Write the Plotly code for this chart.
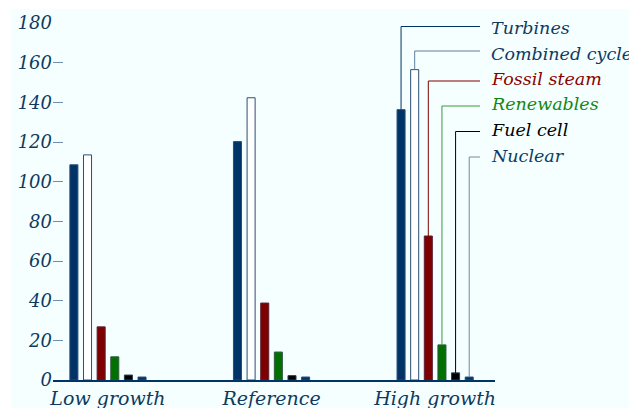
import plotly.graph_objects as go

categories = ["Low growth", "Reference", "High growth"]
series_names = ["Turbines", "Combined cycle", "Fossil steam", "Renewables", "Fuel cell", "Nuclear"]
turbines = [108.5, 120.2, 136.3]
combined_cycle = [113.5, 142.3, 156.5]
fossil_steam = [26.8, 38.8, 72.6]
renewables = [11.7, 14.1, 17.7]
fuel_cell = [2.5, 2.2, 3.6]
nuclear = [1.5, 1.5, 1.5]
y_ticks = [0, 20, 40, 60, 80, 100, 120, 140, 160, 180]

values = [turbines, combined_cycle, fossil_steam, renewables, fuel_cell, nuclear]
fill_colors = ["#003366", "#ffffff", "#7f0000", "#007000", "#000000", "#003366"]
edge_colors = ["#2a4f74", "#2a4f74", "#5a2030", "#2f5a40", "#2a3f54", "#2a4f74"]
lead_colors = ["#003366", "#5d7e9e", "#7f0000", "#3a9a3a", "#000000", "#6d8aa5"]
text_colors = ["#0e3a60", "#0e3a60", "#8b0000", "#118811", "#000000", "#0e3a60"]

BG = "#f5ffff"
FONT = "DejaVu Serif"
FS = 19
LFS = 17.5
bargap = 0.50
bargroupgap = 0.41
n = len(series_names)
XR = [-0.336, 2.366]

fig = go.Figure()
for i, name in enumerate(series_names):
    fig.add_trace(go.Bar(
        x=list(range(len(categories))), y=values[i], name=name,
        marker=dict(color=fill_colors[i], line=dict(color=edge_colors[i], width=1)),
        showlegend=False,
    ))

# page offset (body margin) and figure size
OFF = 8
W, H = 637 - OFF, 408 - OFF
# plot area in screen pixels
SL, SR, ST, SB = 53, 495, 23, 380
L, T = SL - OFF, ST - OFF
R, B = W - (SR - OFF), H - (SB - OFF)
ph = H - T - B
pw = W - L - R

def py(ypx):
    return (SB - ypx) / ph

def px(xpx):
    return (xpx - SL) / pw

shapes = [dict(type="rect", xref="paper", yref="paper", x0=px(11), x1=px(700),
               y0=py(9), y1=py(500), fillcolor=BG, line=dict(width=0), layer="below")]

label_y = [28, 53.5, 79, 104.5, 130, 155.5]
line_y = [26.5, 51, 81, 106, 131.5, 157]
slot = (1 - bargap) / n
last = len(categories) - 1
annotations = []
for i, name in enumerate(series_names):
    xc = last - (1 - bargap) / 2 + slot * (i + 0.5)
    top = values[i][last]
    xc_px = SL + (xc - XR[0]) / (XR[1] - XR[0]) * pw
    shapes.append(dict(type="line", xref="x", yref="paper", x0=xc, x1=xc,
                       y0=top / 180, y1=py(line_y[i]),
                       line=dict(color=lead_colors[i], width=1)))
    shapes.append(dict(type="line", xref="paper", yref="paper", x0=px(xc_px), x1=px(480),
                       y0=py(line_y[i]), y1=py(line_y[i]),
                       line=dict(color=lead_colors[i], width=1)))
    annotations.append(dict(xref="paper", yref="paper", x=px(489), y=py(label_y[i]),
                            text=name, showarrow=False, xanchor="left", yanchor="middle",
                            font=dict(family=FONT, size=LFS, color=text_colors[i], style="italic")))

fig.update_layout(
    width=W, height=H,
    margin=dict(l=L, r=R, t=T, b=B, pad=0, autoexpand=False),
    paper_bgcolor="#ffffff", plot_bgcolor="rgba(0,0,0,0)",
    barmode="group", bargap=bargap, bargroupgap=bargroupgap,
    shapes=shapes, annotations=annotations,
    font=dict(family=FONT, size=FS, color="#0e3a60", style="italic"),
    xaxis=dict(tickmode="array", tickvals=list(range(len(categories))), ticktext=categories,
               range=XR, showgrid=False, zeroline=False, showline=True, automargin=False,
               linecolor="#003366", linewidth=1.5, ticks="",
               tickfont=dict(family=FONT, size=FS, color="#0e3a60", style="italic")),
    yaxis=dict(range=[0, 180], tickvals=y_ticks, showgrid=False, zeroline=False, automargin=False,
               showline=False, ticks="inside", ticklen=10, tickcolor="#6f8fab", tickwidth=1,
               tickfont=dict(family=FONT, size=18, color="#0e3a60", style="italic")),
)

fig.write_html("out.html")
